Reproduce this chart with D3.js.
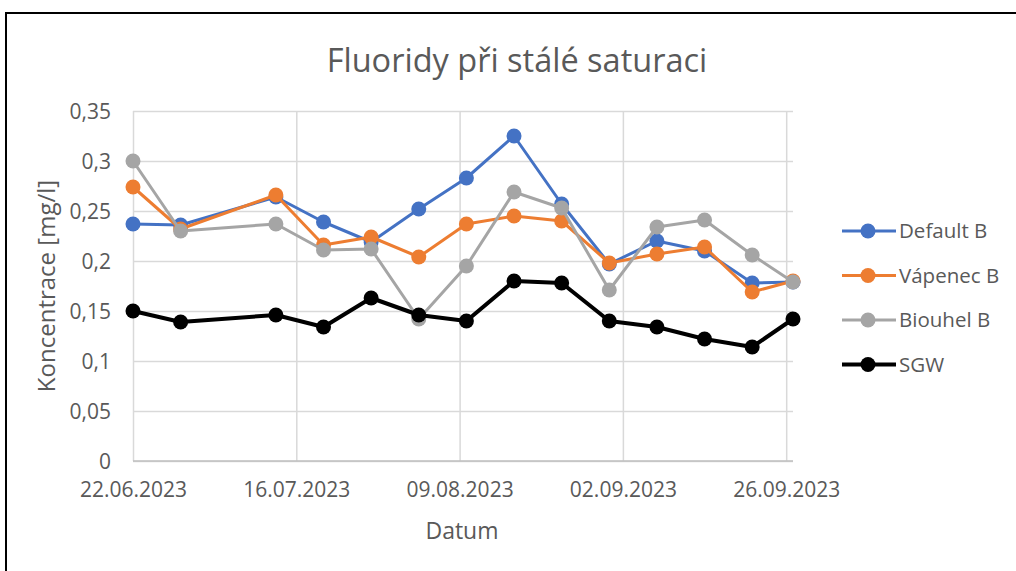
<!DOCTYPE html>
<html>
<head>
<meta charset="utf-8">
<script src="https://cdn.jsdelivr.net/npm/d3@7"></script>
<style>
  html, body { margin: 0; padding: 0; background: #fff; }
  svg { display: block; }
  text { font-family: "Open Sans", "Liberation Sans", sans-serif; fill: #595959; }
</style>
</head>
<body>
<svg id="chart" width="1016" height="571"></svg>
<script>
const title = "Fluoridy při stálé saturaci";
const xTitle = "Datum";
const yTitle = "Koncentrace [mg/l]";

const dates = ["22.06.2023","29.06.2023","13.07.2023","20.07.2023","27.07.2023","03.08.2023","10.08.2023","17.08.2023","24.08.2023","31.08.2023","07.09.2023","14.09.2023","21.09.2023","27.09.2023"];

const seriesNames = ["Default B", "Vápenec B", "Biouhel B", "SGW"];
const defaultB = [0.237, 0.236, 0.264, 0.239, 0.219, 0.252, 0.283, 0.325, 0.257, 0.197, 0.220, 0.210, 0.178, 0.179];
const vapenecB = [0.274, 0.232, 0.266, 0.216, 0.224, 0.204, 0.237, 0.245, 0.240, 0.198, 0.207, 0.214, 0.169, 0.180];
const biouhelB = [0.300, 0.230, 0.237, 0.211, 0.212, 0.142, 0.195, 0.269, 0.253, 0.171, 0.234, 0.241, 0.206, 0.179];
const sgw      = [0.150, 0.139, 0.146, 0.134, 0.163, 0.146, 0.140, 0.180, 0.178, 0.140, 0.134, 0.122, 0.114, 0.142];

const xTickLabels = ["22.06.2023","16.07.2023","09.08.2023","02.09.2023","26.09.2023"];
const yTicks = [0, 0.05, 0.1, 0.15, 0.2, 0.25, 0.3, 0.35];
const xDomain = ["22.06.2023", "27.09.2023"];
const yDomain = [0, 0.35];

const colors = ["#4472C4", "#ED7D31", "#A5A5A5", "#000000"];
const lineWidths = [3, 3, 3, 4];
const allValues = [defaultB, vapenecB, biouhelB, sgw];

const parse = d3.utcParse("%d.%m.%Y");
const svg = d3.select("#chart");

// outer chart border
svg.append("rect").attr("x", 6).attr("y", 13).attr("width", 1030).attr("height", 600)
  .attr("fill", "none").attr("stroke", "#000").attr("stroke-width", 2);

const plot = { left: 133, right: 793, top: 111, bottom: 461 };
const x = d3.scaleUtc().domain(xDomain.map(parse)).range([plot.left, plot.right]);
const y = d3.scaleLinear().domain(yDomain).range([plot.bottom, plot.top]);

// horizontal gridlines
const yAxis = d3.axisLeft(y).tickValues(yTicks)
  .tickFormat(d => d3.format(".2~f")(d).replace(".", ","))
  .tickSize(-(plot.right - plot.left)).tickPadding(22);
const gy = svg.append("g").attr("transform", `translate(${plot.left},0)`).call(yAxis);
gy.select(".domain").remove();
gy.selectAll(".tick line").attr("stroke", "#D9D9D9").attr("stroke-width", 1.5);
gy.selectAll(".tick text").attr("font-size", 21).style("fill", "#595959").attr("dy", "0.35em");

// vertical gridlines (date axis)
const xAxis = d3.axisBottom(x).tickValues(xTickLabels.map(parse))
  .tickFormat(d3.utcFormat("%d.%m.%Y"))
  .tickSize(-(plot.bottom - plot.top)).tickPadding(21);
const gx = svg.append("g").attr("transform", `translate(0,${plot.bottom})`).call(xAxis);
gx.select(".domain").remove();
gx.selectAll(".tick line").attr("stroke", "#D9D9D9").attr("stroke-width", 1.5);
gx.selectAll(".tick text").attr("font-size", 21).style("fill", "#595959");

// bottom axis line
svg.append("line").attr("x1", plot.left).attr("x2", plot.right)
  .attr("y1", plot.bottom).attr("y2", plot.bottom)
  .attr("stroke", "#BFBFBF").attr("stroke-width", 1.5);

// series
const line = d3.line().x(d => x(d.date)).y(d => y(d.value));
seriesNames.forEach((name, i) => {
  const data = dates.map((dt, j) => ({ date: parse(dt), value: allValues[i][j] }));
  const g = svg.append("g");
  g.append("path").datum(data).attr("d", line).attr("fill", "none")
    .attr("stroke", colors[i]).attr("stroke-width", lineWidths[i])
    .attr("stroke-linejoin", "round");
  g.selectAll("circle").data(data).join("circle")
    .attr("cx", d => x(d.date)).attr("cy", d => y(d.value)).attr("r", 7.5)
    .attr("fill", colors[i]);
});

// title
svg.append("text").attr("x", 517).attr("y", 72).attr("text-anchor", "middle")
  .attr("font-size", 32.5).text(title);

// axis titles
svg.append("text").attr("x", 462).attr("y", 539).attr("text-anchor", "middle")
  .attr("font-size", 23).text(xTitle);
svg.append("text").attr("transform", "translate(55,286) rotate(-90)")
  .attr("text-anchor", "middle").attr("font-size", 24).text(yTitle);

// legend
const legend = svg.append("g");
seriesNames.forEach((name, i) => {
  const ly = 231 + i * 44.5;
  legend.append("line").attr("x1", 842).attr("x2", 896).attr("y1", ly).attr("y2", ly)
    .attr("stroke", colors[i]).attr("stroke-width", lineWidths[i]);
  legend.append("circle").attr("cx", 868).attr("cy", ly).attr("r", 7.5).attr("fill", colors[i]);
  legend.append("text").attr("x", 899).attr("y", ly).attr("dy", "0.35em")
    .attr("font-size", 20.5).text(name);
});
</script>
</body>
</html>
